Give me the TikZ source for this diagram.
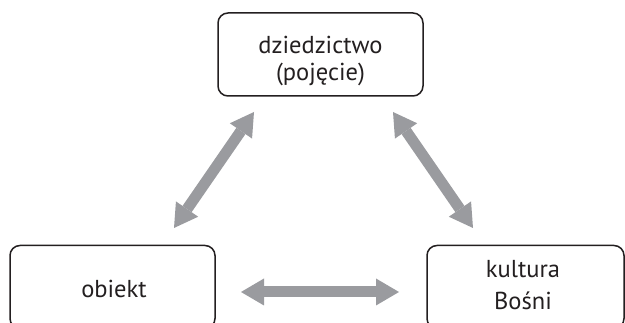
\documentclass[tikz,border=0pt]{standalone}
\usepackage{fontspec}
\setmainfont{PT Sans}
\usetikzlibrary{arrows.meta}
\definecolor{arrowgray}{HTML}{9A9B9F}
\definecolor{boxline}{HTML}{231F20}
\tikzset{
  box/.style={draw=boxline, line width=1.5pt, rounded corners=10pt, minimum width=205pt, minimum height=83pt, inner sep=0pt, align=center, font=\fontsize{24.5}{28}\selectfont, text=boxline},
  boxtext/.style={text=boxline, align=center, inner sep=0pt, font=\fontsize{24.5}{32}\selectfont},
  biarrow/.style={draw=arrowgray, line width=11pt, {Triangle[length=23pt,width=27pt,line width=0pt]}-{Triangle[length=23pt,width=27pt,line width=0pt]}}
}
\begin{document}
\begin{tikzpicture}[x=1pt,y=1pt]
\useasboundingbox (0,0) rectangle (625,323);
\begin{scope}
\clip (0,0) rectangle (625,323);
\node[box] (top) at (320.5,268.5) {};
\node[box] (left) at (112.5,36) {};
\node[box, minimum width=197pt] (right) at (525.5,36) {};
\end{scope}
\node[boxtext, font=\fontsize{24.5}{27}\selectfont] (toptext) at (320.5,262) {dziedzictwo\\(pojęcie)};
\node[boxtext] (lefttext) at (114,34) {obiekt};
\node[boxtext] (righttext) at (523,38) {kultura\\Bośni};
\coordinate (l1) at (174,95);
\coordinate (l2) at (254,211);
\coordinate (r1) at (393,211);
\coordinate (r2) at (473,95);
\coordinate (h1) at (241,31);
\coordinate (h2) at (399,31);
\draw[biarrow] (l1) -- (l2);
\draw[biarrow] (r1) -- (r2);
\draw[biarrow] (h1) -- (h2);
\end{tikzpicture}
\end{document}
